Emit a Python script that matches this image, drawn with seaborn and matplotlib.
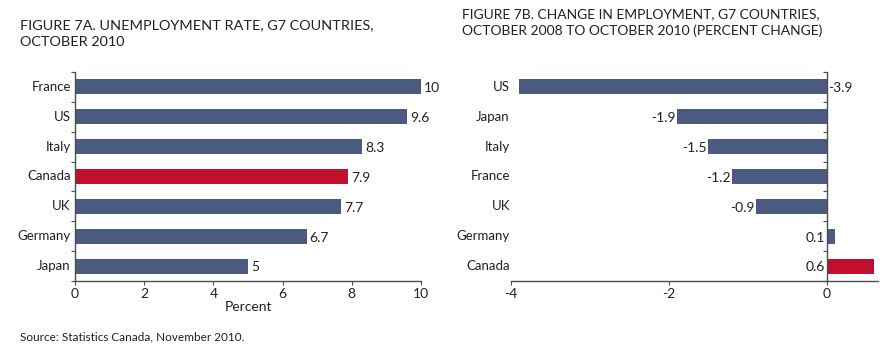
import matplotlib
matplotlib.use("Agg")
import matplotlib.pyplot as plt
import matplotlib.transforms as mtransforms
import seaborn as sns
import numpy as np

# ---- data ----
countries_a = ["France", "US", "Italy", "Canada", "UK", "Germany", "Japan"]
values_a = [10, 9.6, 8.3, 7.9, 7.7, 6.7, 5]
labels_a = ["10", "9.6", "8.3", "7.9", "7.7", "6.7", "5"]

countries_b = ["US", "Japan", "Italy", "France", "UK", "Germany", "Canada"]
values_b = [-3.9, -1.9, -1.5, -1.2, -0.9, 0.1, 0.6]
labels_b = ["-3.9", "-1.9", "-1.5", "-1.2", "-0.9", "0.1", "0.6"]

xticks_a = [0, 2, 4, 6, 8, 10]
xticks_b = [-4, -2, 0]

title_a = "FIGURE 7A. UNEMPLOYMENT RATE, G7 COUNTRIES,\nOCTOBER 2010"
title_b = "FIGURE 7B. CHANGE IN EMPLOYMENT, G7 COUNTRIES,\nOCTOBER 2008 TO OCTOBER 2010 (PERCENT CHANGE)"
source = "Source: Statistics Canada, November 2010."

BLUE = "#4a5a80"
RED = "#c1102f"
TXT = "#231f20"
AX = "#4d4d4d"

sns.set_theme(style="white")
plt.rcParams["font.family"] = ["Lato", "DejaVu Sans"]

fig = plt.figure(figsize=(8.91, 3.49), dpi=100)
W, H = 891, 349
def rect(l, r, t, b):
    return [l / W, 1 - b / H, (r - l) / W, (b - t) / H]

ax_a = fig.add_axes(rect(75, 421, 72, 281))
ax_b = fig.add_axes(rect(511, 878, 72, 281))

def colors_for(cats):
    return {c: (RED if c == "Canada" else BLUE) for c in cats}

sns.barplot(x=values_a, y=countries_a, hue=countries_a, palette=colors_for(countries_a),
            legend=False, width=0.5, dodge=False, orient="h", ax=ax_a, saturation=1,
            linewidth=0)
sns.barplot(x=values_b, y=countries_b, hue=countries_b, palette=colors_for(countries_b),
            legend=False, width=0.5, dodge=False, orient="h", ax=ax_b, saturation=1,
            linewidth=0)

for ax in (ax_a, ax_b):
    ax.set_ylim(6.5, -0.5)
    for s in ("top", "right"):
        ax.spines[s].set_visible(False)
    for s in ("left", "bottom"):
        ax.spines[s].set_color(AX)
        ax.spines[s].set_linewidth(1.0)
    ax.set_yticks(np.arange(-0.5, 7.0, 1.0))
    ax.tick_params(axis="y", length=3, width=0.8, color=AX, left=True, labelleft=False)
    ax.tick_params(axis="x", length=3, width=0.8, color=AX, bottom=True,
                   labelsize=10, labelcolor=TXT, pad=2)
    ax.set_ylabel("")
    ax.grid(False)

# Panel A
ax_a.set_xlim(0, 10)
ax_a.set_xticks(xticks_a)
ax_a.set_xticklabels([str(t) for t in xticks_a])
ax_a.set_xlabel("Percent", fontsize=10, color=TXT, labelpad=1)
trans_a = mtransforms.blended_transform_factory(ax_a.transAxes, ax_a.transData)
for i, c in enumerate(countries_a):
    ax_a.text(-0.012, i, c, transform=trans_a, ha="right", va="center",
              fontsize=9.5, color=TXT)
for i, (v, lab) in enumerate(zip(values_a, labels_a)):
    ax_a.annotate(lab, (v, i), xytext=(2, -1), textcoords="offset points",
                  ha="left", va="center", fontsize=10, color=TXT, annotation_clip=False)

# Panel B
ax_b.set_xlim(-4, 0.65)
ax_b.set_xticks(xticks_b)
ax_b.set_xticklabels([str(t) for t in xticks_b])
ax_b.spines["left"].set_position(("data", 0))
trans_b = mtransforms.blended_transform_factory(ax_b.transAxes, ax_b.transData)
for i, c in enumerate(countries_b):
    ax_b.text(-0.003, i, c, transform=trans_b, ha="right", va="center",
              fontsize=9.5, color=TXT)
for i, (v, lab) in enumerate(zip(values_b, labels_b)):
    if v < -3.5:
        ax_b.annotate(lab, (0, i), xytext=(1, -1), textcoords="offset points",
                      ha="left", va="center", fontsize=10, color=TXT)
    else:
        ax_b.annotate(lab, (min(v, 0), i), xytext=(-1, -1), textcoords="offset points",
                      ha="right", va="center", fontsize=10, color=TXT)
ax_b.set_xlabel("")

# Titles and source
fig.text(20 / W, 1 - 19 / H, title_a, ha="left", va="top", fontsize=10.4,
         color=TXT, linespacing=1.45)
fig.text(462 / W, 1 - 8 / H, title_b, ha="left", va="top", fontsize=10.0,
         color=TXT, linespacing=1.45)
fig.text(20 / W, 1 - 337 / H, source, ha="left", va="center", fontsize=8.5, color=TXT)

fig.savefig("out.png", dpi=100)
